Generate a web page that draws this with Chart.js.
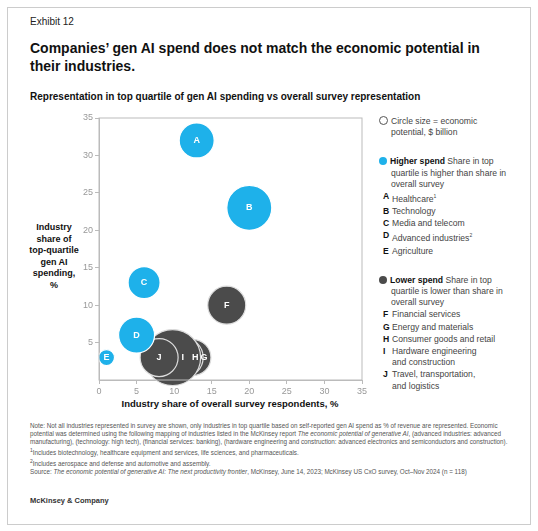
<!DOCTYPE html>
<html><head><meta charset="utf-8">
<script src="https://cdn.jsdelivr.net/npm/chart.js@4"></script>
<style>
body{margin:0;width:538px;height:531px;background:#fff;font-family:Arial,"Liberation Sans",sans-serif;color:#111;position:relative;overflow:hidden}
.frame{position:absolute;left:7px;top:7px;width:522px;height:516px;border:1px solid #ccc}
.abs{position:absolute}
#legend{left:379px;top:116px;width:150px;font-size:8.6px;line-height:11.2px;color:#444}
#legend b{color:#111}
.dot{display:inline-block;width:8px;height:8px;border-radius:50%;vertical-align:-1px;margin-right:3px}
.it{padding-left:4px}
.it b{display:inline-block;width:9px;flex:none}
sup{font-size:5px}
.notes{left:30px;top:422px;width:490px;font-size:6.3px;line-height:8px;color:#555}
</style></head><body>
<div class="frame"></div>
<div class="abs" style="left:30px;top:16px;font-size:10px;color:#222">Exhibit 12</div>
<div class="abs" style="left:30px;top:39px;width:470px;font-size:14px;font-weight:bold;line-height:18px">Companies’ gen AI spend does not match the economic potential in their industries.</div>
<div class="abs" style="left:30px;top:91px;font-size:10px;font-weight:bold">Representation in top quartile of gen AI spending vs overall survey representation</div>
<div class="abs" style="left:28px;top:222px;width:52px;text-align:center;font-size:9px;font-weight:bold;line-height:11.5px">Industry share of top-quartile gen AI spending, %</div>
<div class="abs" style="left:80px;top:398px;width:300px;text-align:center;font-size:9.5px;font-weight:bold">Industry share of overall survey respondents, %</div>
<div id="legend" class="abs">
<div><span class="dot" style="border:1px solid #555;width:7px;height:7px"></span>Circle size = economic<br><span style="padding-left:12px">potential, $ billion</span></div>
<div style="margin-top:18px"><span class="dot" style="background:#1eb1ea"></span><b>Higher spend</b> Share in top<br><span style="display:block;padding-left:12px">quartile is higher than share in overall survey</span></div>
<div id="hi"></div>
<div style="margin-top:18px"><span class="dot" style="background:#4b4b4b"></span><b>Lower spend</b> Share in top<br><span style="display:block;padding-left:12px">quartile is lower than share in overall survey</span></div>
<div id="lo"></div>
</div>
<div class="abs" style="left:70px;top:105px;width:300px;height:310px"><canvas id="c"></canvas></div>
<div class="abs notes">Note: Not all industries represented in survey are shown, only industries in top quartile based on self-reported gen AI spend as % of revenue are represented. Economic potential was determined using the following mapping of industries listed in the McKinsey report <i>The economic potential of generative AI</i>, (advanced industries: advanced manufacturing), (technology: high tech), (financial services: banking), (hardware engineering and construction: advanced electronics and semiconductors and construction).<br><sup>1</sup>Includes biotechnology, healthcare equipment and services, life sciences, and pharmaceuticals.<br><sup>2</sup>Includes aerospace and defense and automotive and assembly.<br>Source: <i>The economic potential of generative AI: The next productivity frontier</i>, McKinsey, June 14, 2023; McKinsey US CxO survey, Oct–Nov 2024 (n = 118)</div>
<div class="abs" style="left:30px;top:496px;font-size:7.5px;font-weight:bold;color:#333">McKinsey &amp; Company</div>
<script>
const hiLabels=["A","B","C","D","E"];
const hiNames=["Healthcare<sup>1</sup>","Technology","Media and telecom","Advanced industries<sup>2</sup>","Agriculture"];
const hiX=[13,20,6,5,1];
const hiY=[32,23,13,6,3];
const hiR=[17.5,22.5,16,18,8];
const loLabels=["F","G","H","I","J"];
const loNames=["Financial services","Energy and materials","Consumer goods and retail","Hardware engineering<br>and construction","Travel, transportation,<br>and logistics"];
const loX=[17,12.5,11.2,9.8,8];
const loY=[10,3,3,3,3];
const loR=[19,18,20,28,19];
const axisTicks=[0,5,10,15,20,25,30,35];

function leg(id,l,n){document.getElementById(id).innerHTML=l.map((a,i)=>`<div class="it" style="margin-top:1px;display:flex"><b>${a}</b><span>${n[i]}</span></div>`).join('');}
leg('hi',hiLabels,hiNames);leg('lo',loLabels,loNames);

const mk=(x,y,r)=>x.map((v,i)=>({x:v,y:y[i],r:r[i]}));
const labelPlugin={id:'lbl',afterDatasetsDraw(ch){
  const c=ch.ctx;c.save();c.fillStyle='#fff';c.font='bold 9px Arial';c.textAlign='center';c.textBaseline='middle';
  const inset={1:7,2:8,3:18};
  [hiLabels,loLabels].forEach((labs,di)=>{ch.getDatasetMeta(di).data.forEach((p,i)=>{
    let x=p.x; const r=p.options.radius;
    if(di===1&&inset[i]!==undefined) x=p.x+r-inset[i];
    c.fillText(labs[i],x,p.y);});});
  const a=ch.chartArea;c.strokeStyle='#bbb';c.lineWidth=1;c.strokeRect(a.left,a.top,a.right-a.left,a.bottom-a.top);c.restore();}};
new Chart(document.getElementById('c'),{type:'bubble',
 data:{datasets:[
  {data:mk(hiX,hiY,hiR),backgroundColor:'#1eb1ea',borderColor:'#fff',borderWidth:1.2,clip:false},
  {data:mk(loX,loY,loR),backgroundColor:'#4b4b4b',borderColor:'#ddd',borderWidth:1.2,clip:false}]},
 options:{responsive:true,maintainAspectRatio:false,animation:false,
  layout:{autoPadding:false,padding:{top:13,right:8,left:0,bottom:0}},
  plugins:{legend:{display:false},tooltip:{enabled:false}},
  scales:{
   x:{min:0,max:35,afterFit(s){s.height=35},afterBuildTicks(s){s.ticks=axisTicks.map(v=>({value:v}))},
      ticks:{color:'#999',font:{size:9},padding:2},grid:{drawOnChartArea:false,tickLength:4,color:'#bbb'},border:{color:'#bbb'}},
   y:{min:0,max:35,afterFit(s){s.width=29},afterBuildTicks(s){s.ticks=axisTicks.filter(v=>v>0).map(v=>({value:v}))},
      ticks:{color:'#999',font:{size:9},padding:2},grid:{drawOnChartArea:false,tickLength:4,color:'#bbb'},border:{color:'#bbb'}}}},
 plugins:[labelPlugin]});
</script>
</body></html>
